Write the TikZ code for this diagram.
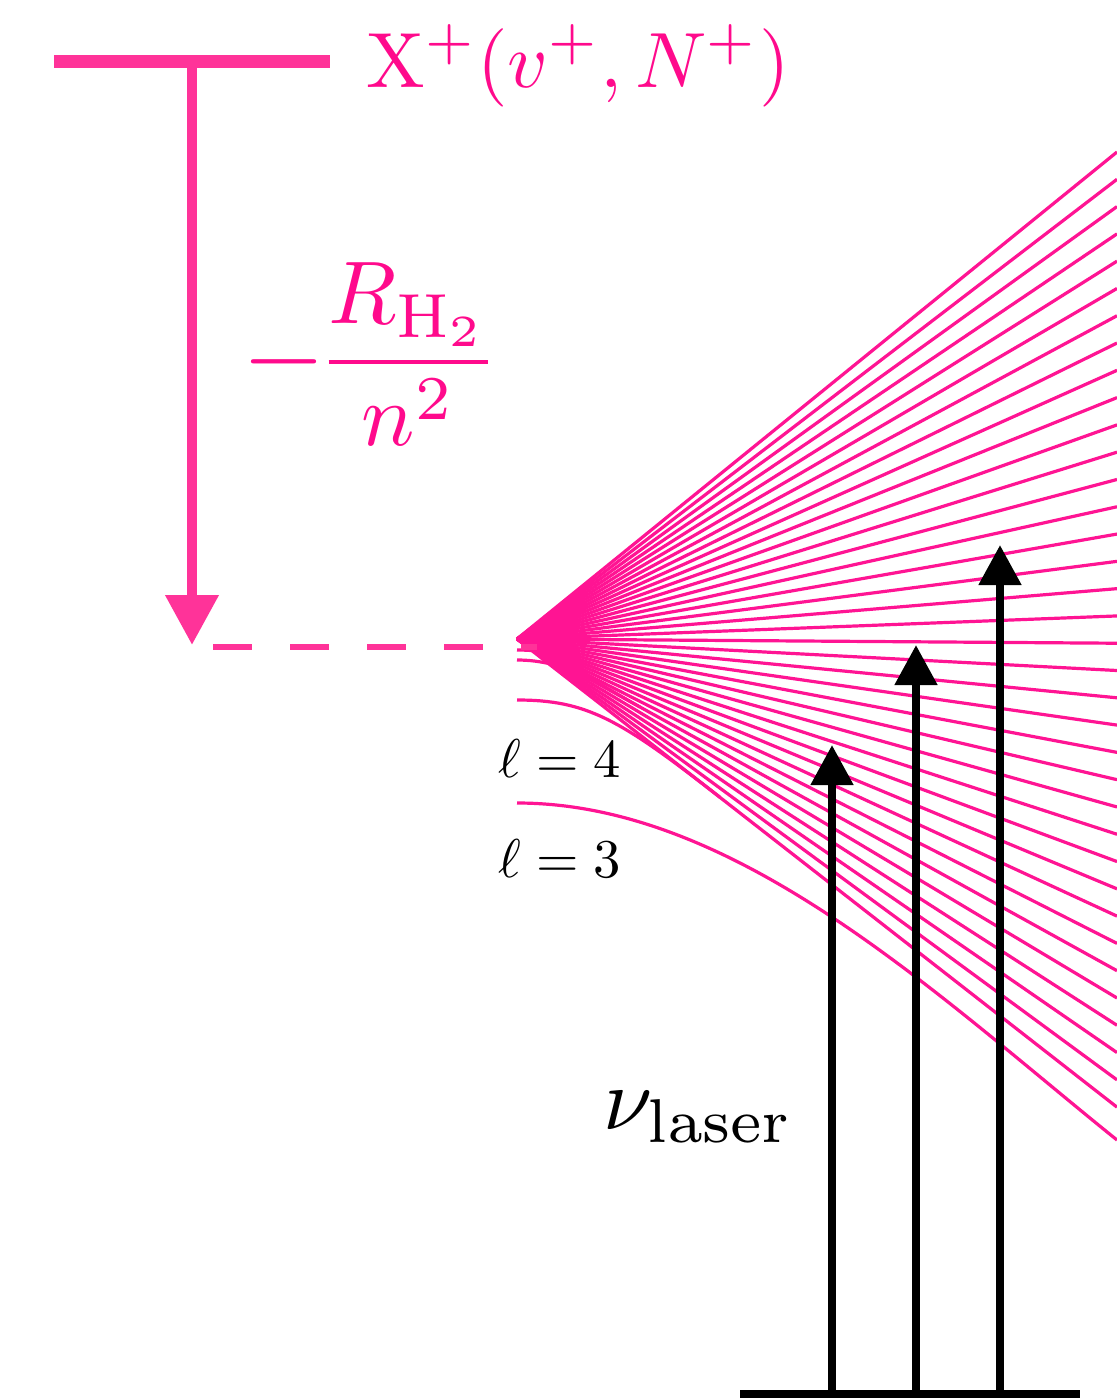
\documentclass[tikz,border=0pt]{standalone}
\usepackage{amsmath}
\usetikzlibrary{arrows.meta}
\definecolor{lvl}{RGB}{255,51,153}
\definecolor{fanc}{RGB}{255,20,147}
\definecolor{txt}{RGB}{255,10,140}
\begin{document}
\begin{tikzpicture}[x=0.5pt,y=-0.5pt,
  fan/.style={draw=fanc,line width=1.6pt},
  level/.style={draw=lvl,line width=6.5pt},
  pinkarrow/.style={draw=lvl,line width=5.25pt,-{Triangle[width=25.5pt,length=25pt]}},
  dashlevel/.style={draw=lvl,line width=3.4pt,dash pattern=on 19.25pt off 19.25pt},
  laser/.style={draw=black,line width=4pt,-{Triangle[width=20.5pt,length=20pt]}},
  ground/.style={draw=black,line width=4pt},
  pinktext/.style={text=txt,inner sep=0pt},
  blacktext/.style={text=black,inner sep=0pt}]
\useasboundingbox (0,0) rectangle (1117,1398);
% fan origin
\coordinate (O) at (517,639);
% straight manifold lines
\foreach \j in {0,...,35}{
  \coordinate (e\j) at (1117,{152+27.29*\j});
  \draw[fan] (O) -- (e\j);
}
% curved low-l states
\coordinate (ca) at (517,650); \coordinate (caj) at (600,669.8);
\coordinate (cb) at (517,660); \coordinate (cbj) at (640,707);
\coordinate (l4) at (517,700); \coordinate (l4j) at (720,797.3);
\coordinate (l3) at (517,803); \coordinate (l3e) at (1117,1140);
\draw[fan] (ca) .. controls +(35,0) and +(-30,-11.1) .. (caj);
\draw[fan] (cb) .. controls +(50,0) and +(-40,-22.1) .. (cbj);
\draw[fan] (l4) .. controls +(70,0) and +(-100,-78) .. (l4j);
\draw[fan] (l3) .. controls +(220,0) and +(-180,-145) .. (l3e);
% ionic level and arrow
\coordinate (ionL) at (54,61); \coordinate (ionR) at (330,61);
\coordinate (ionA) at (192,61); \coordinate (limA) at (192,645);
\coordinate (dashS) at (213,647); \coordinate (dashE) at (537,647);
\draw[dashlevel] (dashS) -- (dashE);
\draw[pinkarrow] (ionA) -- (limA);
\draw[level] (ionL) -- (ionR);
% laser arrows
\coordinate (gL) at (740,1394); \coordinate (gR) at (1080,1394);
\coordinate (b1) at (832,1398); \coordinate (t1) at (832,745);
\coordinate (b2) at (916,1398); \coordinate (t2) at (916,645);
\coordinate (b3) at (1000,1398); \coordinate (t3) at (1000,545);
\draw[laser] (b1) -- (t1);
\draw[laser] (b2) -- (t2);
\draw[laser] (b3) -- (t3);
\draw[ground] (gL) -- (gR);
% labels
\node[pinktext,anchor=base west] (ionlab) at (366,87) {\scalebox{3.92}{$\mathrm{X}^+(v^+,N^+)$}};
\node[pinktext,anchor=base east] (ryd) at (499,384) {\scalebox{4.45}{$\vcenter{\hbox{\scalebox{1.2}{$-$}}}\mkern-1.5mu\dfrac{R_{\mathrm{H}_2}}{n^2}$}};
\node[blacktext,anchor=base west] (lab4) at (498,777) {\scalebox{2.73}{$\ell=4$}};
\node[blacktext,anchor=base west] (lab3) at (498,877) {\scalebox{2.73}{$\ell=3$}};
\node[blacktext,anchor=base west] (nu) at (603,1129) {\scalebox{4.42}{$\nu_{\mathrm{laser}}$}};
\end{tikzpicture}
\end{document}
